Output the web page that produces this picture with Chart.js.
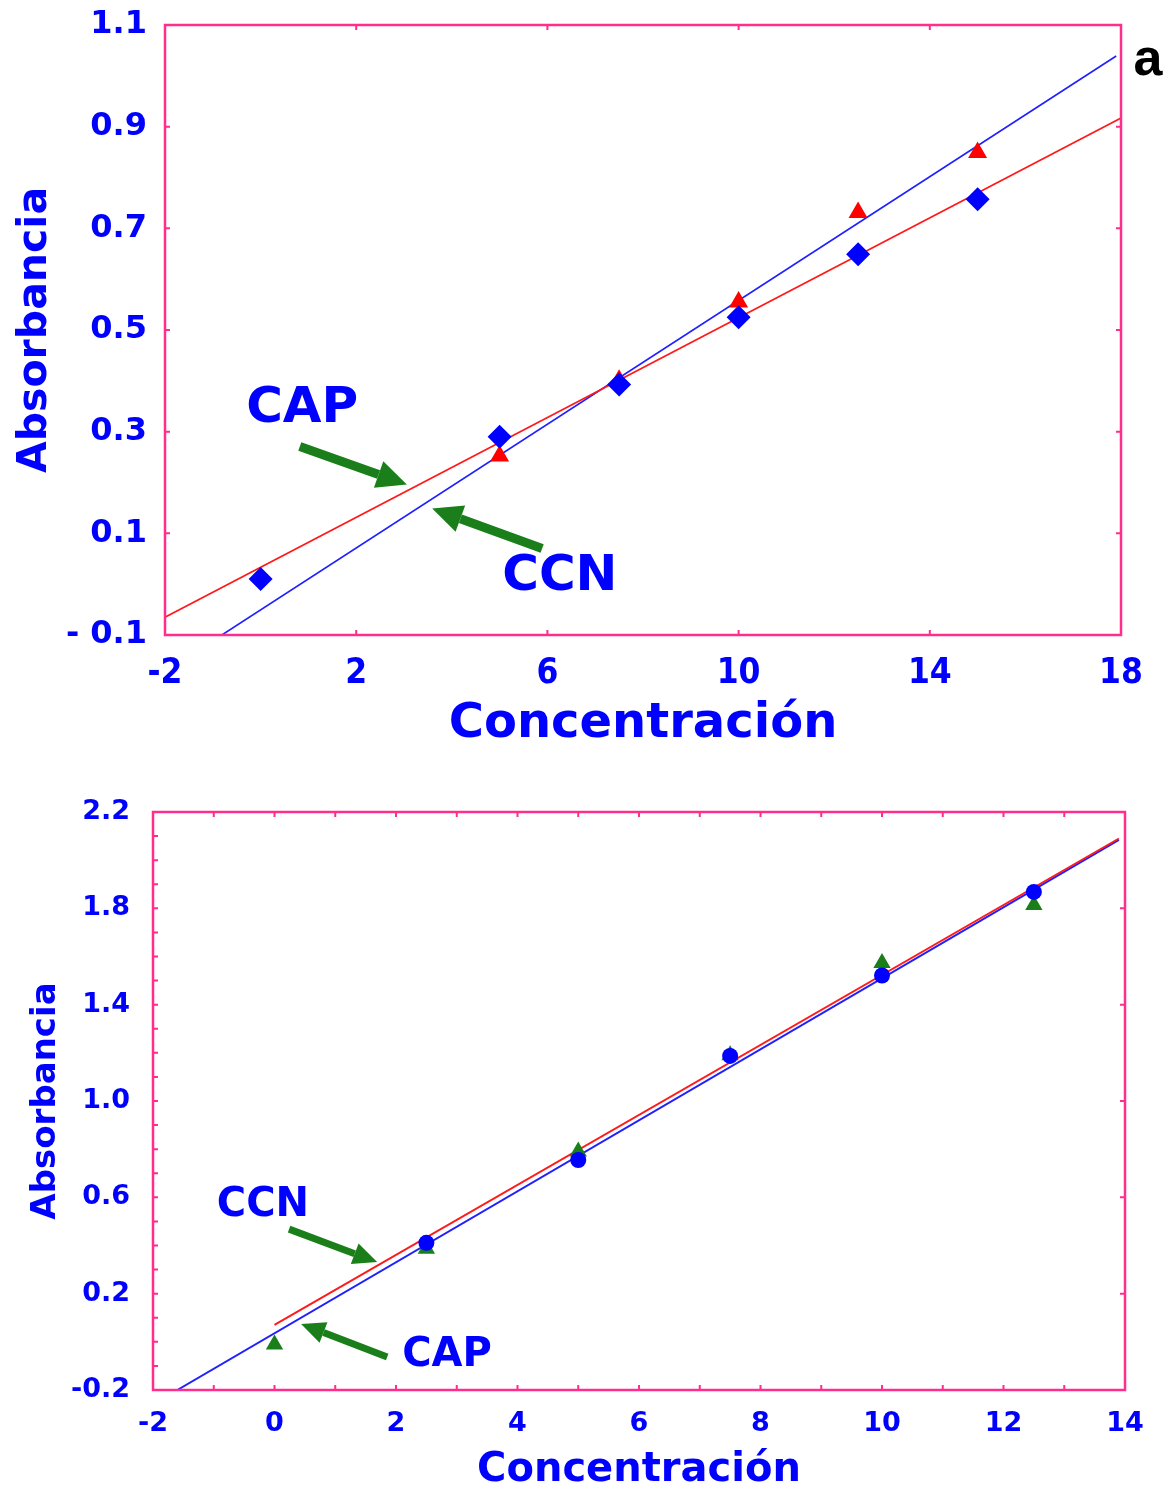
<!DOCTYPE html>
<html>
<head>
<meta charset="utf-8">
<script src="https://cdn.jsdelivr.net/npm/chart.js@4.4.1/dist/chart.umd.min.js"></script>
<style>
  body { margin: 0; background: #fff; width: 1166px; height: 1491px; overflow: hidden; position: relative; }
  .box { position: absolute; left: 0; width: 1166px; }
</style>
</head>
<body>
<div class="box" style="top:0;height:760px"><canvas id="c1" width="1166" height="760"></canvas></div>
<div class="box" style="top:770px;height:721px"><canvas id="c2" width="1166" height="721"></canvas></div>
<script>
// --- panel a (top) ---
const concDiaA = [0, 5, 7.5, 10, 12.5, 15];
const diamondA = [0.01, 0.29, 0.393, 0.525, 0.649, 0.757];
const concTriA = [5, 7.5, 10, 12.5, 15];
const triangleA = [0.252, 0.401, 0.555, 0.731, 0.849];
const redLineAx = [-2, 18];
const redLineAy = [-0.065, 0.917];
const blueLineAx = [-0.81, 17.9];
const blueLineAy = [-0.1, 1.039];
const xTicksA = [-2, 2, 6, 10, 14, 18];
const yTicksA = [-0.1, 0.1, 0.3, 0.5, 0.7, 0.9, 1.1];
const arrowsA = [[0.82, 0.271, 3.06, 0.196], [5.89, 0.07, 3.59, 0.149]];
const notesA = [['CAP', 0.87, 0.344], ['CCN', 6.26, 0.015]];

// --- panel b (bottom) ---
const concCirB = [2.5, 5, 7.5, 10, 12.5];
const circleB = [0.411, 0.755, 1.187, 1.521, 1.868];
const concTriB = [0, 2.5, 5, 7.5, 10, 12.5];
const triangleB = [-0.011, 0.387, 0.79, 1.19, 1.573, 1.814];
const redLineBx = [0, 13.9];
const redLineBy = [0.07, 2.09];
const blueLineBx = [-1.6, 13.9];
const blueLineBy = [-0.2, 2.084];
const xTicksB = [-2, 0, 2, 4, 6, 8, 10, 12, 14];
const xMinorB = [-2, -1, 0, 1, 2, 3, 4, 5, 6, 7, 8, 9, 10, 11, 12, 13, 14];
const yTicksB = [-0.2, 0.2, 0.6, 1.0, 1.4, 1.8, 2.2];
const yMinorB = [-0.2, -0.1, 0, 0.1, 0.2, 0.3, 0.4, 0.5, 0.6, 0.7, 0.8, 0.9, 1.0, 1.1, 1.2,
  1.3, 1.4, 1.5, 1.6, 1.7, 1.8, 1.9, 2.0, 2.1, 2.2];
const arrowsB = [[0.24, 0.468, 1.69, 0.331], [1.855, -0.063, 0.438, 0.074]];
const notesB = [['CCN', -0.19, 0.564], ['CAP', 2.84, -0.059]];

const BLUE = '#0000ff', PINK = '#ff2d8c', GREEN = '#1a7f1a';
const pts = (xs, ys) => xs.map((x, i) => ({ x, y: ys[i] }));

// frame, inward ticks, arrows and text notes
const decor = {
  id: 'decor',
  afterDatasetsDraw(chart, args, o) {
    const { ctx, chartArea: a, scales: { x, y } } = chart;
    ctx.save();
    ctx.strokeStyle = PINK;
    ctx.lineWidth = 2.5;
    ctx.strokeRect(a.left, a.top, a.right - a.left, a.bottom - a.top);
    ctx.lineWidth = 2;
    ctx.beginPath();
    o.xB.forEach(v => { const p = x.getPixelForValue(v); ctx.moveTo(p, a.bottom); ctx.lineTo(p, a.bottom - 5); });
    o.xT.forEach(v => { const p = x.getPixelForValue(v); ctx.moveTo(p, a.top); ctx.lineTo(p, a.top + 5); });
    o.yL.forEach(v => { const p = y.getPixelForValue(v); ctx.moveTo(a.left, p); ctx.lineTo(a.left + 5, p); });
    o.yR.forEach(v => { const p = y.getPixelForValue(v); ctx.moveTo(a.right, p); ctx.lineTo(a.right - 5, p); });
    ctx.stroke();

    ctx.strokeStyle = GREEN; ctx.fillStyle = GREEN;
    o.arrows.forEach(([x1, y1, x2, y2]) => {
      const px1 = x.getPixelForValue(x1), py1 = y.getPixelForValue(y1);
      const px2 = x.getPixelForValue(x2), py2 = y.getPixelForValue(y2);
      const ang = Math.atan2(py2 - py1, px2 - px1);
      const bx = px2 - o.head * Math.cos(ang), by = py2 - o.head * Math.sin(ang);
      ctx.lineWidth = o.shaft;
      ctx.beginPath(); ctx.moveTo(px1, py1); ctx.lineTo(bx, by); ctx.stroke();
      const nx = -Math.sin(ang) * o.headW / 2, ny = Math.cos(ang) * o.headW / 2;
      ctx.beginPath(); ctx.moveTo(px2, py2); ctx.lineTo(bx + nx, by + ny); ctx.lineTo(bx - nx, by - ny); ctx.closePath(); ctx.fill();
    });

    ctx.fillStyle = BLUE;
    ctx.font = 'bold ' + o.noteSize + 'px "DejaVu Sans"';
    ctx.textAlign = 'center'; ctx.textBaseline = 'middle';
    o.notes.forEach(([t, vx, vy]) => ctx.fillText(t, x.getPixelForValue(vx), y.getPixelForValue(vy)));

    if (o.tag) {
      ctx.fillStyle = '#000';
      ctx.font = 'bold 52px "Liberation Sans"';
      ctx.fillText(o.tag, a.right + 27, a.top + 36);
    }
    ctx.restore();
  }
};

function makeChart(id, c) {
  return new Chart(document.getElementById(id), {
    type: 'scatter',
    data: { datasets: c.datasets },
    options: {
      responsive: false, animation: false, devicePixelRatio: 1,
      layout: { padding: c.pad },
      plugins: { legend: { display: false }, tooltip: { enabled: false }, decor: c.decor },
      scales: {
        x: {
          min: c.xMin, max: c.xMax,
          grid: { display: false, drawTicks: false }, border: { display: false },
          afterBuildTicks: s => { s.ticks = c.xTicks.map(v => ({ value: v })); },
          afterFit: s => { s.height = c.xH; s.paddingLeft = 0; s.paddingRight = 0; },
          ticks: { color: BLUE, font: c.xTickFont, padding: c.xTickPad, maxRotation: 0, autoSkip: false },
          title: { display: true, text: 'Concentración', color: BLUE, font: c.xTitleFont, padding: { top: 0, bottom: c.xTitlePad } }
        },
        y: {
          min: c.yMin, max: c.yMax,
          grid: { display: false, drawTicks: false }, border: { display: false },
          afterBuildTicks: s => { s.ticks = c.yTicks.map(v => ({ value: v })); },
          afterFit: s => { s.width = c.yW; s.paddingTop = 0; s.paddingBottom = 0; },
          ticks: { color: BLUE, font: c.yTickFont, padding: c.yTickPad, autoSkip: false, callback: c.yFmt },
          title: { display: true, text: 'Absorbancia', color: BLUE, font: c.yTitleFont, padding: { top: c.yTitlePad, bottom: 0 } }
        }
      }
    },
    plugins: [decor]
  });
}

makeChart('c1', {
  datasets: [
    { data: pts(concDiaA, diamondA), pointStyle: 'rectRot', pointRadius: 12, backgroundColor: BLUE, borderColor: BLUE, borderWidth: 0 },
    { data: pts(concTriA, triangleA), pointStyle: 'triangle', pointRadius: 11, backgroundColor: '#ff0000', borderColor: '#ff0000', borderWidth: 0 },
    { data: pts(redLineAx, redLineAy), showLine: true, pointRadius: 0, borderColor: '#ff1a1a', borderWidth: 1.6 },
    { data: pts(blueLineAx, blueLineAy), showLine: true, pointRadius: 0, borderColor: '#2020ff', borderWidth: 1.6 }
  ],
  pad: { top: 25, right: 45, left: 0, bottom: 0 },
  xMin: -2, xMax: 18, yMin: -0.1, yMax: 1.1,
  xTicks: xTicksA, yTicks: yTicksA, xH: 125, yW: 165,
  xTickFont: { family: '"Liberation Sans Narrow", "DejaVu Sans Condensed", sans-serif', size: 35, weight: 'bold' },
  xTickPad: 18,
  yTickFont: { family: '"DejaVu Sans"', size: 32, weight: 'bold' },
  yTickPad: 18,
  yFmt: v => v < 0 ? '- ' + Math.abs(v).toFixed(1) : v.toFixed(1),
  xTitleFont: { family: '"DejaVu Sans"', size: 48, weight: 'bold', lineHeight: 1 },
  xTitlePad: 11,
  yTitleFont: { family: '"DejaVu Sans"', size: 41, weight: 'bold', lineHeight: 1 },
  yTitlePad: 15,
  decor: { xB: xTicksA, xT: xTicksA, yL: yTicksA, yR: yTicksA, arrows: arrowsA, notes: notesA,
    shaft: 9, head: 30, headW: 28, noteSize: 50, tag: 'a' }
});

makeChart('c2', {
  datasets: [
    { data: pts(concCirB, circleB), pointStyle: 'circle', pointRadius: 8, backgroundColor: BLUE, borderColor: BLUE, borderWidth: 0 },
    { data: pts(concTriB, triangleB), pointStyle: 'triangle', pointRadius: 10, backgroundColor: GREEN, borderColor: GREEN, borderWidth: 0 },
    { data: pts(redLineBx, redLineBy), showLine: true, pointRadius: 0, borderColor: '#ff1a1a', borderWidth: 2 },
    { data: pts(blueLineBx, blueLineBy), showLine: true, pointRadius: 0, borderColor: '#2020ff', borderWidth: 2 }
  ],
  pad: { top: 42, right: 41, left: 0, bottom: 0 },
  xMin: -2, xMax: 14, yMin: -0.2, yMax: 2.2,
  xTicks: xTicksB, yTicks: yTicksB, xH: 101, yW: 153,
  xTickFont: { family: '"DejaVu Sans"', size: 27, weight: 'bold' },
  xTickPad: 18,
  yTickFont: { family: '"DejaVu Sans"', size: 27, weight: 'bold' },
  yTickPad: 23,
  yFmt: v => v.toFixed(1),
  xTitleFont: { family: '"DejaVu Sans"', size: 40, weight: 'bold', lineHeight: 1 },
  xTitlePad: 0,
  yTitleFont: { family: '"DejaVu Sans"', size: 34, weight: 'bold', lineHeight: 1 },
  yTitlePad: 29,
  decor: { xB: xMinorB, xT: xMinorB, yL: yMinorB, yR: yTicksB, arrows: arrowsB, notes: notesB,
    shaft: 7, head: 24, headW: 22, noteSize: 40, tag: '' }
});
</script>
</body>
</html>
